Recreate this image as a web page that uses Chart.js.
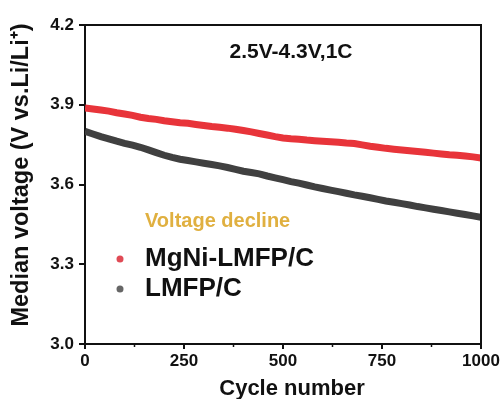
<!DOCTYPE html>
<html>
<script src="https://cdn.jsdelivr.net/npm/chart.js@4/dist/chart.umd.min.js"></script>
<body style="margin:0;background:#fff">

<div style="width:504px;height:399px"><canvas id="voltageChart" width="504" height="399"></canvas></div>

<script>

    // cycle numbers sampled every 20 cycles
    let cycles = [0, 20, 40, 60, 80, 100, 120, 140, 160, 180, 200, 220, 240, 260, 280, 300, 320, 340, 360, 380,
        400, 420, 440, 460, 480, 500, 520, 540, 560, 580, 600, 620, 640, 660, 680, 700, 720, 740, 760, 780,
        800, 820, 840, 860, 880, 900, 920, 940, 960, 980, 1000];

    // median voltage
    let mgniVoltage = [3.888, 3.884, 3.880, 3.876, 3.870, 3.865, 3.860, 3.853, 3.848, 3.845, 3.840, 3.836, 3.832, 3.830, 3.826, 3.822, 3.818, 3.815, 3.812, 3.808,
        3.803, 3.798, 3.792, 3.786, 3.780, 3.775, 3.772, 3.770, 3.767, 3.765, 3.763, 3.761, 3.759, 3.756, 3.754, 3.749, 3.744, 3.740, 3.736, 3.733,
        3.730, 3.727, 3.724, 3.721, 3.718, 3.715, 3.712, 3.710, 3.707, 3.704, 3.700];
    let lmfpVoltage = [3.800, 3.790, 3.780, 3.772, 3.763, 3.755, 3.748, 3.740, 3.730, 3.720, 3.710, 3.702, 3.695, 3.690, 3.685, 3.680, 3.675, 3.670, 3.664, 3.657,
        3.650, 3.645, 3.640, 3.632, 3.625, 3.618, 3.611, 3.605, 3.598, 3.591, 3.585, 3.579, 3.573, 3.567, 3.561, 3.556, 3.550, 3.544, 3.538, 3.533,
        3.528, 3.523, 3.517, 3.512, 3.507, 3.502, 3.497, 3.492, 3.487, 3.482, 3.477];

    let seriesNames = ["MgNi-LMFP/C", "LMFP/C"];
    let lineColors = ["#e8343a", "#404040"];
    let dotColors = ["#e04a55", "#666666"];
    let xTicks = [0, 250, 500, 750, 1000];
    let xMinorTicks = [125, 375, 625, 875];
    let yTicks = [3.0, 3.3, 3.6, 3.9, 4.2];

    const bold = (size) => ({family: "'Liberation Sans', Arial, sans-serif", size: size, weight: "bold"});

    function points(values) {
        return cycles.map((c, i) => ({x: c, y: values[i]}));
    }

    // frame, minor ticks and the text inside the plot
    const extras = {
        id: "extras",
        afterDraw(chart) {
            const ctx = chart.ctx;
            const area = chart.chartArea;
            const xs = chart.scales.x;
            ctx.save();
            ctx.strokeStyle = "#111";
            ctx.lineWidth = 2;
            ctx.beginPath();
            ctx.moveTo(area.left, area.top);
            ctx.lineTo(area.right, area.top);
            ctx.lineTo(area.right, area.bottom);
            ctx.stroke();

            ctx.lineWidth = 1.5;
            xMinorTicks.forEach(v => {
                let px = xs.getPixelForValue(v);
                ctx.beginPath();
                ctx.moveTo(px, area.bottom);
                ctx.lineTo(px, area.bottom + 3);
                ctx.stroke();
            });

            ctx.fillStyle = "#111";
            ctx.textAlign = "center";
            ctx.textBaseline = "middle";
            ctx.font = "bold 21px 'Liberation Sans', Arial, sans-serif";
            ctx.fillText("2.5V-4.3V,1C", 291, 52);

            ctx.fillStyle = "#e0b040";
            ctx.textAlign = "left";
            ctx.font = "bold 20px 'Liberation Sans', Arial, sans-serif";
            ctx.fillText("Voltage decline", 145, 221);

            ctx.font = "bold 26px 'Liberation Sans', Arial, sans-serif";
            seriesNames.forEach((name, i) => {
                let y = 259 + i * 30;
                ctx.fillStyle = dotColors[i];
                ctx.beginPath();
                ctx.arc(120, y, 3.5, 0, Math.PI * 2);
                ctx.fill();
                ctx.fillStyle = "#111";
                ctx.fillText(name, 145, y);
            });

            ctx.textAlign = "center";
            ctx.font = "bold 22px 'Liberation Sans', Arial, sans-serif";
            ctx.fillText("Cycle number", 292, 389);

            ctx.translate(22, 175);
            ctx.rotate(-Math.PI / 2);
            ctx.font = "bold 23.5px 'Liberation Sans', Arial, sans-serif";
            ctx.fillText("Median voltage (V vs.Li/Li\u207A)", 0, 0);
            ctx.restore();
        }
    };

    new Chart("voltageChart", {
        type: "line",
        data: {
            datasets: [{
                label: seriesNames[0],
                data: points(mgniVoltage),
                borderColor: lineColors[0],
                borderWidth: 7,
                pointRadius: 0,
                fill: false
            }, {
                label: seriesNames[1],
                data: points(lmfpVoltage),
                borderColor: lineColors[1],
                borderWidth: 7,
                pointRadius: 0,
                fill: false
            }]
        },
        options: {
            responsive: false,
            animation: false,
            layout: {padding: {top: 25, right: 23, left: 0, bottom: 0}},
            plugins: {
                legend: {display: false},
                tooltip: {enabled: false}
            },
            scales: {
                x: {
                    type: "linear",
                    min: 0,
                    max: 1000,
                    afterBuildTicks: (s) => { s.ticks = xTicks.map(v => ({value: v})); },
                    afterFit: (s) => { s.height = 55; },
                    ticks: {color: "#111", font: bold(17), padding: 2, maxRotation: 0, callback: v => String(v)},
                    grid: {drawOnChartArea: false, tickLength: 5, color: "#111", lineWidth: 2},
                    border: {color: "#111", width: 2}
                },
                y: {
                    min: 3.0,
                    max: 4.2,
                    afterBuildTicks: (s) => { s.ticks = yTicks.map(v => ({value: v})); },
                    afterFit: (s) => { s.width = 85; },
                    ticks: {color: "#111", font: bold(17), padding: 5, callback: v => v.toFixed(1)},
                    grid: {drawOnChartArea: false, tickLength: 6, color: "#111", lineWidth: 2},
                    border: {color: "#111", width: 2}
                }
            }
        },
        plugins: [extras]
    });

</script>
</body>
</html>
